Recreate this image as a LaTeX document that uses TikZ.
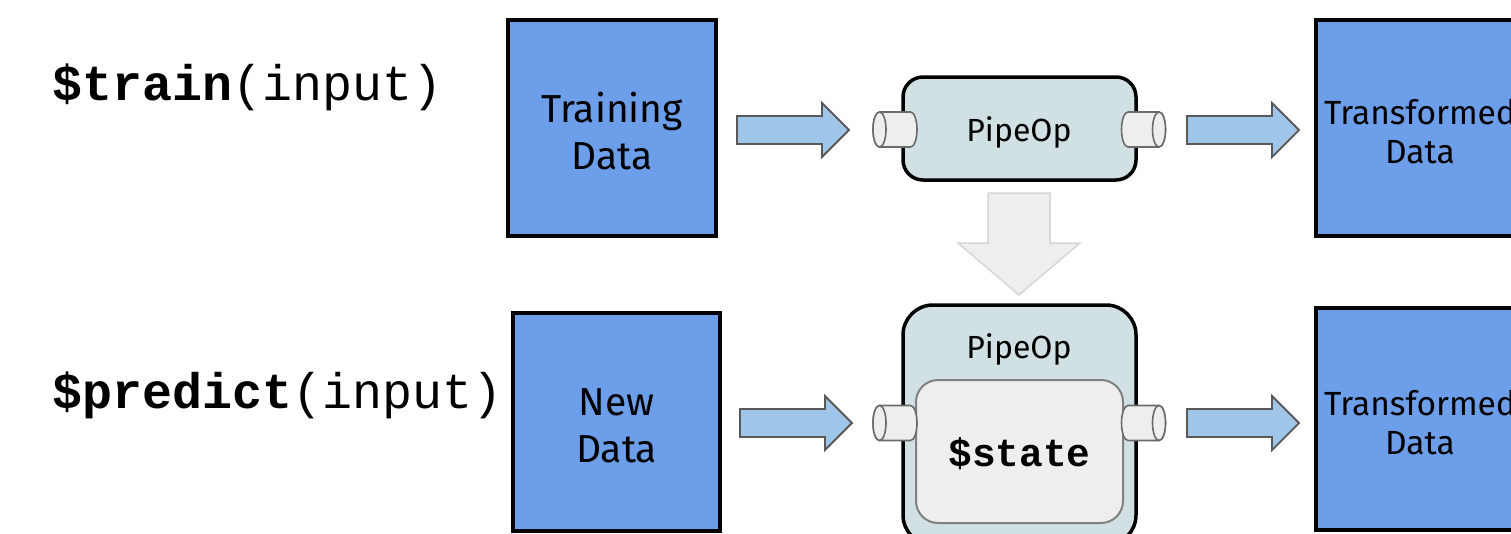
\documentclass[tikz,border=0pt]{standalone}
\usepackage{fontspec}
\setmainfont{Fira Sans}
\setmonofont{Liberation Mono}
\definecolor{boxblue}{HTML}{6C9EEA}
\definecolor{arrblue}{HTML}{9FC5E8}
\definecolor{arredge}{HTML}{595959}
\definecolor{pipefill}{HTML}{D0E0E3}
\definecolor{cylfill}{HTML}{EEEEEE}
\definecolor{cyledge}{HTML}{6B6B6B}
\definecolor{statefill}{HTML}{EEEEEE}
\definecolor{stateedge}{HTML}{808080}
\definecolor{grayarr}{HTML}{EEEEEE}
\definecolor{grayedge}{HTML}{D6D6D6}
\tikzset{
  databox/.style={draw=black, line width=3.5pt, fill=boxblue, inner sep=0pt},
  boxtext/.style={inner sep=0pt, align=center},
  pipebox/.style={draw=black, line width=3.5pt, fill=pipefill, inner sep=0pt},
  cylstyle/.style={draw=cyledge, line width=1.6pt, fill=cylfill},
  barrowstyle/.style={draw=arredge, line width=1.8pt, fill=arrblue, line join=miter},
  lcyl/.pic={
    \path[cylstyle] (-15.5,-17.5) -- (15.5,-17.5)
      arc[start angle=-90,end angle=90,x radius=6.5,y radius=17.5]
      -- (-15.5,17.5)
      arc[start angle=90,end angle=270,x radius=6.5,y radius=17.5] -- cycle;
    \path[cylstyle] (-15.5,0) ellipse[x radius=6.5,y radius=17.5];
  },
  rcyl/.pic={
    \path[cylstyle] (-15.5,-17.5) -- (15.5,-17.5)
      arc[start angle=-90,end angle=90,x radius=6.5,y radius=17.5]
      -- (-15.5,17.5)
      arc[start angle=90,end angle=270,x radius=6.5,y radius=17.5] -- cycle;
    \path[cylstyle] (15.5,0) ellipse[x radius=6.5,y radius=17.5];
  },
  barrow/.pic={
    \path[barrowstyle] (0,-14) -- (85,-14) -- (85,-27) -- (112,0) -- (85,27) -- (85,14) -- (0,14) -- cycle;
  }
}
\begin{document}
\begin{tikzpicture}[x=1pt,y=-1pt]
\useasboundingbox (0,0) rectangle (1511,533);
\clip (0,0) rectangle (1511,533);

% left labels
\node[anchor=base west, inner sep=0pt] (trainlbl) at (52,100)
  {\fontsize{50}{50}\selectfont\ttfamily\textbf{\$train}(input)};
\node[anchor=base west, inner sep=0pt] (predlbl) at (52,408)
  {\fontsize{50}{50}\selectfont\ttfamily\textbf{\$predict}(input)};

% data boxes
\node[databox, minimum width=208pt, minimum height=216pt] (train) at (612,128) {};
\node[boxtext, font=\fontsize{39}{47}\selectfont] (traintxt) at (612,131) {Training\\Data};
\node[databox, minimum width=207pt, minimum height=218pt] (newdata) at (616.5,422) {};
\node[boxtext, font=\fontsize{39}{47}\selectfont] (newtxt) at (616.5,426) {New\\Data};
\node[databox, minimum width=208pt, minimum height=216pt] (out1) at (1420,128) {};
\node[boxtext, font=\fontsize{33.5}{39}\selectfont] (out1txt) at (1420,132) {Transformed\\Data};
\node[databox, minimum width=208pt, minimum height=222pt] (out2) at (1420,419) {};
\node[boxtext, font=\fontsize{33.5}{39}\selectfont] (out2txt) at (1420,423) {Transformed\\Data};

% pipeops
\node[pipebox, rounded corners=20pt, minimum width=233pt, minimum height=103pt] (pipe1) at (1019.5,128.5) {};
\node[inner sep=0pt, font=\fontsize{32}{38}\selectfont] (pipe1lbl) at (1019,132) {PipeOp};
\node[pipebox, rounded corners=30pt, minimum width=233pt, minimum height=240pt] (pipe2) at (1019.5,425) {};
\node[inner sep=0pt, font=\fontsize{32}{38}\selectfont] (pipe2lbl) at (1019,349) {PipeOp};
\node[draw=stateedge, line width=2pt, fill=statefill, rounded corners=22pt,
      minimum width=207pt, minimum height=143pt, inner sep=0pt] (state) at (1019.5,451.5) {};
\node[inner sep=0pt, font=\fontsize{39.5}{40}\selectfont\ttfamily\bfseries] (statetxt) at (1019.5,454) {\$state};

% cylinders (ports)
\pic (p1in) at (895,129.5) {lcyl};
\pic (p1out) at (1143.5,129.5) {rcyl};
\pic (p2in) at (895,423) {lcyl};
\pic (p2out) at (1143.5,423) {rcyl};

% blue block arrows
\pic (a1) at (737,130) {barrow};
\pic (a2) at (1187,130) {barrow};
\pic (a3) at (740,423) {barrow};
\pic (a4) at (1187,423) {barrow};

% gray state arrow
\path[fill=grayarr, draw=grayedge, line width=1.5pt]
  (988,193) -- (1050,193) -- (1050,243) -- (1080,243) -- (1019,295) -- (958,243) -- (988,243) -- cycle;
\end{tikzpicture}
\end{document}
